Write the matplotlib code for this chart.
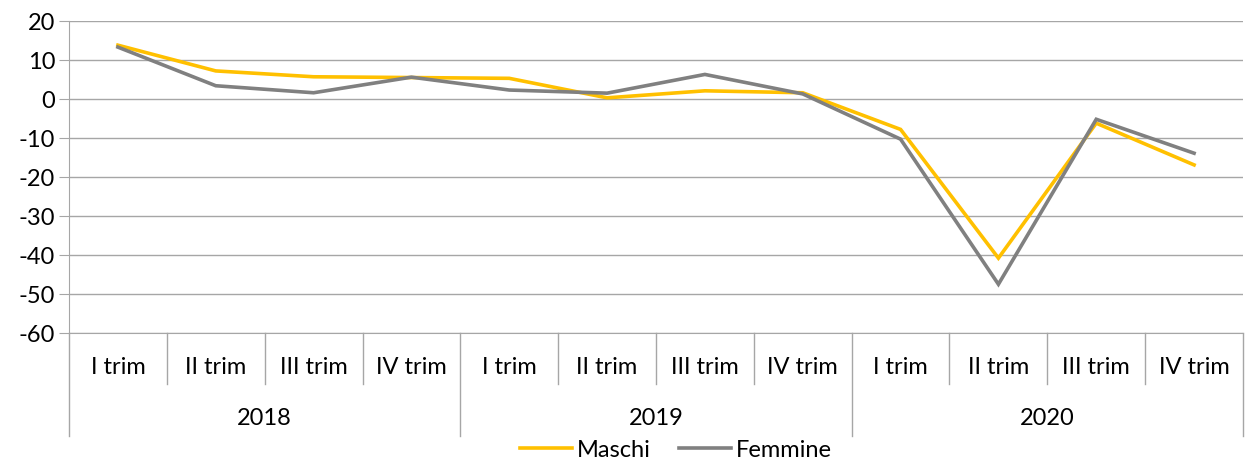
import matplotlib.pyplot as plt
import matplotlib.transforms as mtransforms

plt.rcParams['font.family'] = ['Lato', 'DejaVu Sans']
plt.rcParams['axes.unicode_minus'] = False

anni = ['2018', '2019', '2020']
trimestri = ['I trim', 'II trim', 'III trim', 'IV trim']
maschi = [13.8, 7.2, 5.7, 5.5, 5.3, 0.3, 2.1, 1.6, -7.8, -40.8, -6.2, -16.9]
femmine = [13.3, 3.4, 1.6, 5.6, 2.3, 1.5, 6.3, 1.3, -10.3, -47.5, -5.2, -13.9]

n = len(maschi)
x = list(range(n))
fs = 17

fig = plt.figure(figsize=(12.45, 4.61), dpi=100)
ax = fig.add_axes([69 / 1245, 1 - 333 / 461, 1174 / 1245, 312 / 461])

grid_col = '#A6A6A6'
ax.plot(x, maschi, color='#FFC000', lw=2.6, label='Maschi', solid_joinstyle='miter')
ax.plot(x, femmine, color='#808080', lw=2.6, label='Femmine', solid_joinstyle='miter')

ax.set_xlim(-0.5, n - 0.5)
ax.set_ylim(-60, 20)
ax.set_yticks(range(-60, 21, 10))
ax.yaxis.grid(True, color=grid_col, lw=1)
ax.set_axisbelow(True)
ax.tick_params(axis='y', length=7, color=grid_col, labelsize=fs, pad=3)
ax.set_xticks([])
for s in ['top', 'right']:
    ax.spines[s].set_visible(False)
ax.spines['left'].set_color(grid_col)
ax.spines['bottom'].set_color(grid_col)

# axis fraction per pixel below the plot
px = 1 / 312
trans = mtransforms.blended_transform_factory(ax.transData, ax.transAxes)

# quarter separators and labels
for i in range(n + 1):
    b = i - 0.5
    if i % 4 == 0:
        y_end = -103 * px
    else:
        y_end = -51 * px
    ax.plot([b, b], [0, y_end], color=grid_col, lw=1, transform=trans, clip_on=False)
for i in range(n):
    ax.text(i, -34 * px, trimestri[i % 4], transform=trans, ha='center', va='center', fontsize=fs)
for j, a in enumerate(anni):
    ax.text(j * 4 + 1.5, -85 * px, a, transform=trans, ha='center', va='center', fontsize=fs)

ax.legend(loc='center', bbox_to_anchor=(0.517, -117 * px), ncol=2, frameon=False, fontsize=fs,
          handlelength=2.2, handletextpad=0.2, columnspacing=1.2, borderaxespad=0)

fig.savefig('out.png', dpi=100)
